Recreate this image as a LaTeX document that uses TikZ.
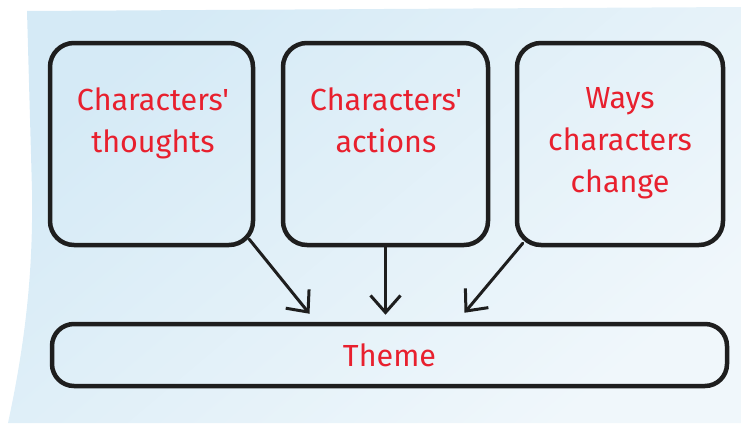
\documentclass[tikz,border=0pt]{standalone}
\usepackage{fontspec}
\setmainfont{Fira Sans}[Ligatures=TeXOff]
\usetikzlibrary{arrows.meta}
\definecolor{txtred}{HTML}{E8202E}
\definecolor{bgA}{HTML}{D5EAF6}
\definecolor{bgB}{HTML}{F0F7FB}
\definecolor{ink}{HTML}{1E1E1E}
\begin{document}
\begin{tikzpicture}[x=1pt,y=-1pt,
  box/.style={draw=ink, line width=4.5pt, rounded corners=24pt, inner sep=0pt},
  lbl/.style={text=txtred, font=\fontsize{30.5}{42}\selectfont, align=center, inner sep=0pt},
  arr/.style={draw=ink, line width=3pt, line cap=round, -{Straight Barb[length=17pt,width=30pt,line width=3pt]}}]
\useasboundingbox (0,0) rectangle (741,423);
\shade[top color=bgA, bottom color=bgB, shading angle=40]
  (27,11) -- (741,7) -- (741,423) -- (8,423) .. controls (28,330) and (33,260) .. (32,190) -- cycle;
% boxes
\node[box, minimum width=203pt, minimum height=202pt] (b1) at (151.5,144) {};
\node[box, minimum width=205pt, minimum height=202pt] (b2) at (385.5,144) {};
\node[box, minimum width=206pt, minimum height=202pt] (b3) at (620,144) {};
\node[box, minimum width=675pt, minimum height=62pt, rounded corners=22pt, lbl] (th) at (389.5,355) {Theme};
% labels
\node[lbl, anchor=north] (t1) at (153,87) {Characters'\\thoughts};
\node[lbl, anchor=north] (t2) at (386,87) {Characters'\\actions};
\node[lbl, anchor=north] (t3) at (620,87) {Ways\\characters\\change};
% arrows
\coordinate (e1) at ([shift={(-80,-8)}]th.north);
\coordinate (e2) at ([shift={(-3,-7)}]th.north);
\coordinate (e3) at ([shift={(75,-9)}]th.north);
\draw[arr] ([shift={(-6,-8)}]b1.south east) -- (e1);
\draw[arr] (b2.south) -- (b2.south |- e2);
\draw[arr] ([shift={(8,-4)}]b3.south west) -- (e3);
\end{tikzpicture}
\end{document}
